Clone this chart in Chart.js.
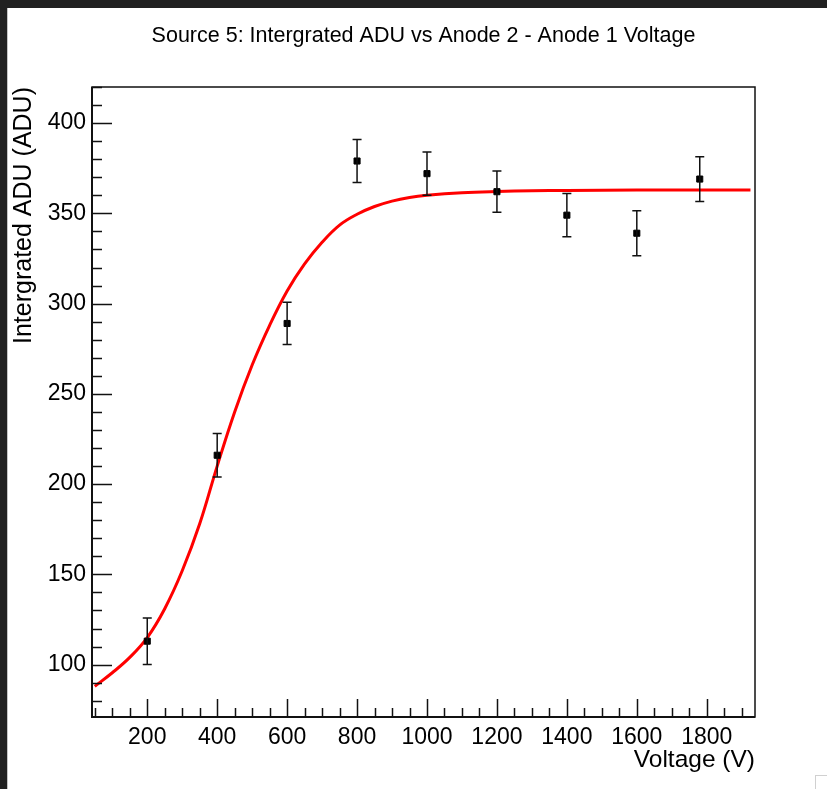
<!DOCTYPE html>
<html>
<head>
<meta charset="utf-8">
<script src="https://cdn.jsdelivr.net/npm/chart.js@4.4.1/dist/chart.umd.min.js"></script>
<style>
    html, body { margin: 0; padding: 0; background: #212121; overflow: hidden; }
    #marco { position: absolute; left: 7px; top: 8px; width: 820px; height: 781px; background: #fff; border-left: 1px solid #c4c4c4; box-sizing: border-box; }
    #grafica { display: block; }
    #esquina { position: absolute; left: 815px; top: 775px; width: 14px; height: 16px; border-top: 1px solid #d0d0d0; border-left: 1px solid #d0d0d0; }
</style>
</head>
<body>
<div id="marco"><canvas id="grafica" width="819" height="781"></canvas></div>
<div id="esquina"></div>
<script>
// medidas: voltaje (V) vs ADU integrado
const voltajes = [200, 400, 600, 800, 1000, 1200, 1400, 1600, 1780];
const adu = [113, 216, 289, 379, 372, 362, 349, 339, 369];
const errores = [12.9, 12, 11.7, 11.9, 12, 11.4, 12, 12.5, 12.4];

// curva de ajuste
const ajusteX = [50, 100, 150, 200, 250, 300, 350, 400, 450, 500, 550, 600, 650, 700, 750, 800, 850, 900, 950, 1000, 1100, 1200, 1300, 1400, 1600, 1800, 1925];
const ajusteY = [88, 95.5, 104, 115, 131, 152, 178, 210, 240, 266, 288, 307, 322, 334, 343.5, 349.5, 353.8, 356.8, 358.8, 360, 361.4, 362.1, 362.5, 362.7, 362.9, 363, 363];

const ticksX = [200, 400, 600, 800, 1000, 1200, 1400, 1600, 1800];
const ticksY = [100, 150, 200, 250, 300, 350, 400];

const fuente = '"Liberation Sans", Arial, Helvetica, sans-serif';

const estiloRoot = {
    id: 'estiloRoot',
    afterDatasetsDraw(chart) {
        const ctx = chart.ctx;
        const x = chart.scales.x, y = chart.scales.y;
        ctx.save();
        ctx.strokeStyle = '#111';
        ctx.lineWidth = 1.5;
        voltajes.forEach((v, i) => {
            const px = x.getPixelForValue(v);
            const arriba = y.getPixelForValue(adu[i] + errores[i]);
            const abajo = y.getPixelForValue(adu[i] - errores[i]);
            ctx.beginPath();
            ctx.moveTo(px, arriba); ctx.lineTo(px, abajo);
            ctx.moveTo(px - 4.5, arriba); ctx.lineTo(px + 4.5, arriba);
            ctx.moveTo(px - 4.5, abajo); ctx.lineTo(px + 4.5, abajo);
            ctx.stroke();
        });
        ctx.restore();
    },
    afterDraw(chart) {
        const ctx = chart.ctx, a = chart.chartArea;
        const x = chart.scales.x, y = chart.scales.y;
        ctx.save();
        ctx.strokeStyle = '#111';
        ctx.lineWidth = 1.5;
        ctx.strokeRect(a.left, a.top, a.right - a.left, a.bottom - a.top);

        // ticks hacia dentro, solo en los ejes inferior e izquierdo
        ctx.beginPath();
        for (let v = 50; v <= x.max; v += 50) {
            const px = Math.round(x.getPixelForValue(v)) + 0.5;
            const largo = v % 200 === 0 ? 18 : 9;
            ctx.moveTo(px, a.bottom); ctx.lineTo(px, a.bottom - largo);
        }
        for (let v = 80; v <= y.max; v += 10) {
            const py = Math.round(y.getPixelForValue(v)) + 0.5;
            const largo = v % 50 === 0 ? 20 : 10;
            ctx.moveTo(a.left, py); ctx.lineTo(a.left + largo, py);
        }
        ctx.stroke();

        ctx.lineWidth = 2;
        ctx.beginPath();
        ctx.moveTo(a.left, a.top); ctx.lineTo(a.left, a.bottom); ctx.lineTo(a.right, a.bottom);
        ctx.stroke();

        ctx.fillStyle = '#000';
        ctx.font = '21.5px ' + fuente;
        ctx.textAlign = 'center';
        ctx.textBaseline = 'middle';
        ctx.fillText('Source 5: Intergrated ADU vs Anode 2 - Anode 1 Voltage', chart.width / 2 + 6, 28);
        ctx.restore();
    }
};

const ctx = document.getElementById('grafica').getContext('2d');
const myChart = new Chart(ctx, {
    type: 'scatter',
    data: {
        datasets: [{
            data: ajusteX.map((v, i) => ({ x: v, y: ajusteY[i] })),
            showLine: true,
            borderColor: '#ff0000',
            borderWidth: 3,
            pointRadius: 0,
            tension: 0.4,
            order: 2
        }, {
            data: voltajes.map((v, i) => ({ x: v, y: adu[i] })),
            showLine: false,
            pointStyle: 'rect',
            pointRadius: 4.3,
            backgroundColor: '#000',
            borderColor: '#000',
            borderWidth: 1,
            order: 1
        }]
    },
    options: {
        responsive: false,
        animation: false,
        layout: { padding: { top: 79, right: 72, left: 0, bottom: 0 } },
        plugins: {
            legend: { display: false },
            tooltip: { enabled: false }
        },
        scales: {
            x: {
                type: 'linear',
                min: 42,
                max: 1938,
                afterBuildTicks: s => { s.ticks = ticksX.map(v => ({ value: v })); },
                afterFit: s => { s.height = 72; },
                grid: { display: false, drawTicks: false },
                border: { display: false },
                ticks: { color: '#000', font: { family: fuente, size: 23 }, padding: 7, maxRotation: 0, autoSkip: false, callback: v => String(v) },
                title: { display: true, text: 'Voltage (V)', align: 'end', color: '#000', font: { family: fuente, size: 24.5 }, padding: { top: 0, bottom: 14 } }
            },
            y: {
                min: 71,
                max: 420,
                afterBuildTicks: s => { s.ticks = ticksY.map(v => ({ value: v })); },
                afterFit: s => { s.width = 84; },
                grid: { display: false, drawTicks: false },
                border: { display: false },
                ticks: { color: '#000', font: { family: fuente, size: 23 }, padding: 6, callback: v => String(v) },
                title: { display: true, text: 'Intergrated ADU (ADU)', align: 'end', color: '#000', font: { family: fuente, size: 25 }, padding: { top: 1, bottom: 0 } }
            }
        }
    },
    plugins: [estiloRoot]
});
</script>
</body>
</html>
